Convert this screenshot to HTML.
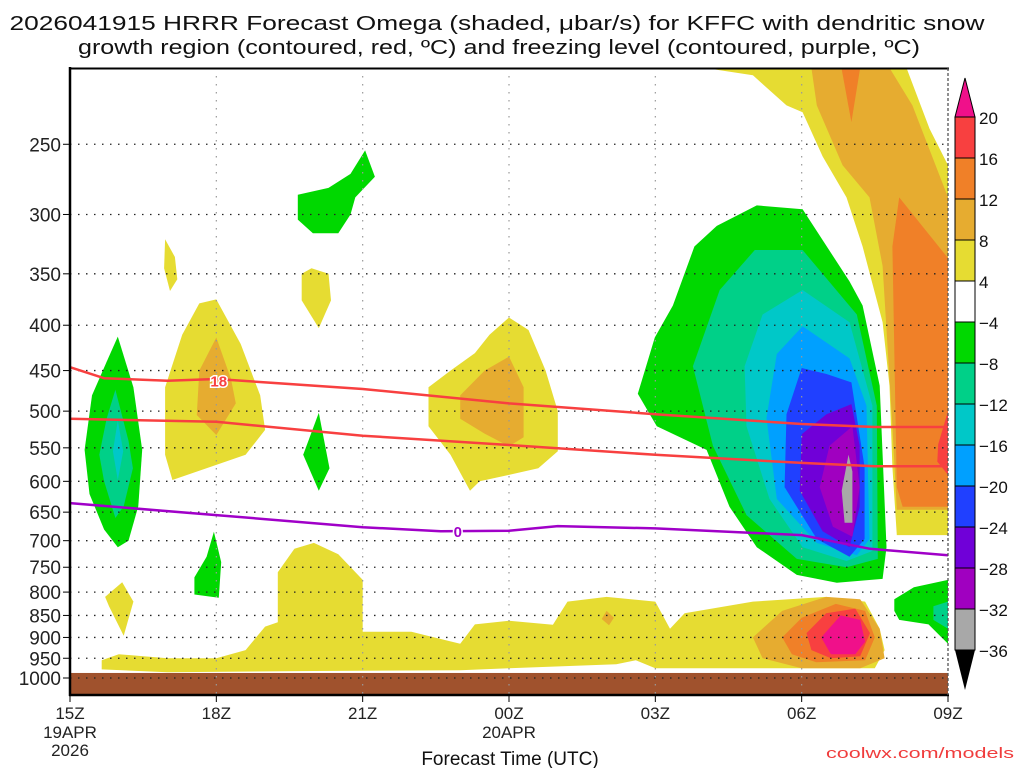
<!DOCTYPE html>
<html><head><meta charset="utf-8"><style>
html,body{margin:0;padding:0;background:#fff;}
svg{display:block;font-family:"Liberation Sans",sans-serif;}
</style></head><body>
<svg id="chart" width="1024" height="768" viewBox="0 0 1024 768">
<defs><clipPath id="plotclip"><rect x="70" y="68" width="878" height="627"/></clipPath></defs>
<g font-size="20" fill="#111">
<text x="497" y="30" text-anchor="middle" textLength="975" lengthAdjust="spacingAndGlyphs">2026041915 HRRR Forecast Omega (shaded, μbar/s) for KFFC with dendritic snow</text>
<text x="499" y="54" text-anchor="middle" textLength="842" lengthAdjust="spacingAndGlyphs">growth region (contoured, red, ºC) and freezing level (contoured, purple, ºC)</text>
</g>
<g id="fills" clip-path="url(#plotclip)"></g>
<g id="grid"></g>
<g id="lines" clip-path="url(#plotclip)"></g>
<g id="axes"></g>
<g id="cbar"></g>
<text x="510" y="765" text-anchor="middle" font-size="19" fill="#111">Forecast Time (UTC)</text>
<text x="1014" y="758" text-anchor="end" font-size="15" fill="#f03c3c" textLength="188" lengthAdjust="spacingAndGlyphs">coolwx.com/models</text>
</svg>
<script>
// ---- data (hours after 15Z, pressure hPa) ----
const pressureTicks = [250,300,350,400,450,500,550,600,650,700,750,800,850,900,950,1000];
const timeTickHours = [0,3,6,9,12,15,18];
const timeTickLabels = ["15Z","18Z","21Z","00Z","03Z","06Z","09Z"];
const cbarLabels = ["20","16","12","8","4","−4","−8","−12","−16","−20","−24","−28","−32","−36"];
const cbarColors = ["#f84040","#f08028","#e6ac30","#e6dc32","#ffffff","#00d800","#00d088","#00c8c8","#00a0ff","#2040ff","#7000d8","#a000c0","#a8a8a8"];

const greenLeft = [[0.98,412],[1.3,470],[1.48,553],[1.4,640],[1.2,700],[0.98,712],[0.7,680],[0.4,620],[0.3,553],[0.45,480],[0.75,440]];
const tealLeft = [[0.93,473],[1.2,540],[1.29,580],[1.1,640],[0.93,660],[0.7,600],[0.6,560],[0.75,510]];
const cyanLeft = [[0.98,512],[1.09,555],[0.98,598],[0.88,555]];
const yellowSmallA = [[1.95,320],[2.15,335],[2.2,355],[2.05,366],[1.93,345]];
const yellowA = [[3.0,374],[3.5,420],[3.9,480],[4.0,525],[3.6,560],[3.0,575],[2.1,598],[1.95,560],[1.95,470],[2.3,410],[2.65,378]];
const orangeA = [[3.0,413],[3.3,460],[3.4,490],[3.0,532],[2.6,505],[2.65,450]];
const greenSmallA = [[2.95,684],[3.1,740],[3.05,812],[2.55,805],[2.55,770],[2.8,730]];
const yellowSmallB = [[1.07,780],[1.3,820],[1.1,896],[0.8,830],[0.72,810]];
const greenTopMid = [[6.05,254],[6.25,272],[5.85,287],[5.75,300],[5.5,315],[4.98,315],[4.67,304],[4.67,285],[5.3,280],[5.75,270]];
const yellowSmallC = [[4.95,345],[5.3,350],[5.35,375],[5.1,403],[4.75,375],[4.75,350]];
const greenSmallB = [[5.1,502],[5.32,580],[5.1,615],[4.78,560]];
const yellowMid = [[9.0,392],[9.4,405],[9.75,450],[10.0,500],[10.0,555],[9.6,580],[9.0,590],[8.4,600],[8.2,615],[7.8,560],[7.35,520],[7.35,470],[7.8,450],[8.3,430],[8.6,410]];
const orangeMid = [[9.0,434],[9.3,470],[9.3,535],[9.0,548],[8.5,530],[8.0,510],[8.0,480],[8.5,450]];
const yellowBand = [[0.65,955],[1.0,940],[2.0,950],[3.0,950],[3.6,930],[4.0,875],[4.26,865],[4.26,760],[4.6,715],[5.0,704],[5.5,725],[6.0,775],[6.0,887],[7.0,887],[8.0,915],[8.3,870],[9.0,862],[9.9,871],[10.2,820],[11.0,810],[12.0,820],[12.3,880],[12.6,845],[14.0,820],[15.5,810],[16.3,820],[16.6,880],[16.7,930],[16.5,975],[12.0,975],[11.6,955],[11.2,965],[9.0,975],[8.0,980],[5.0,982],[2.0,985],[0.65,978]];
const orangeSpot = [[11.0,840],[11.15,855],[11.05,872],[10.9,858]];
const lightOrangeLow = [[14.0,900],[14.6,840],[15.5,810],[16.2,815],[16.6,880],[16.7,950],[16.2,975],[15.0,975],[14.2,950]];
const orangeLow = [[14.6,900],[15.0,855],[15.7,825],[16.3,840],[16.5,900],[16.3,955],[15.3,960],[14.8,940]];
const redLow = [[15.1,890],[15.5,845],[16.1,835],[16.4,890],[16.2,945],[15.6,950],[15.2,930]];
const magentaLow = [[15.4,900],[15.8,850],[16.2,860],[16.3,910],[16.1,940],[15.6,940]];
const yellowRight = [[13.01,200],[13.01,205],[14.0,209],[14.69,226],[15.02,230],[15.43,258],[15.92,287],[16.25,326],[16.66,397],[16.8,468],[16.86,578],[16.95,690],[18,690],[18,264],[17.62,240],[17.15,205],[17.15,200]];
const lightOrangeRight = [[15.2,200],[15.2,205],[15.31,226],[15.84,264],[16.39,287],[16.66,343],[16.86,520],[16.95,646],[18,646],[18,287],[17.27,226],[16.8,205],[16.8,200]];
const orangeSpike = [[15.78,200],[16.23,200],[16.02,236]];
const orangeRight = [[17.0,287],[18,336],[18,641],[17.07,641],[16.95,609],[16.86,326]];
const redRight = [[18,500],[17.8,545],[17.78,570],[18,590]];
const greenBig = [[12.8,326],[12.36,380],[11.99,413],[11.64,478],[12.03,520],[13.05,553],[13.52,641],[14.08,712],[14.9,765],[15.72,781],[16.66,773],[16.74,712],[16.6,468],[16.25,380],[15.98,357],[15.02,296],[14.08,293],[13.26,309]];
const tealBig = [[14.04,329],[15.02,329],[16.13,389],[16.54,493],[16.56,734],[15.92,750],[14.9,734],[13.87,655],[13.18,547],[12.77,445],[13.32,365]];
const cyanBig = [[15.02,365],[15.98,397],[16.45,493],[16.45,719],[15.92,738],[15.02,712],[14.34,628],[13.87,520],[13.83,445],[14.2,389]];
const lightBlueBig = [[15.02,401],[15.98,436],[16.33,493],[16.39,697],[16.13,727],[15.31,704],[14.49,628],[14.28,509],[14.49,431]];
const blueBig = [[15.0,447],[15.51,454],[16.02,464],[16.29,578],[16.29,697],[15.98,730],[15.31,697],[14.65,609],[14.69,504]];
const purpleBig = [[16.02,491],[16.19,547],[16.19,641],[15.98,712],[15.43,683],[14.96,615],[15.0,531],[15.51,504]];
const violetBig = [[16.04,520],[16.19,609],[16.04,693],[15.64,675],[15.37,609],[15.57,547]];
const grayCore = [[15.96,560],[16.04,585],[16.04,668],[15.88,668],[15.82,615]];
const greenLowRight = [[16.9,815],[17.3,790],[18,775],[18,915],[17.6,870],[17.0,860],[16.9,840]];
const tealLowRight = [[17.7,830],[18,820],[18,880],[17.7,860]];

const dgzUpper = [[0,446],[0.7,459],[2,462],[3,460],[6,472],[9,490],[12,504],[15,517],[16.5,521],[18,521]];
const dgzLower = [[0,510],[3,514],[6,533],[9,546],[12,560],[15,572],[16.5,577],[18,577]];
const freezingLine = [[0,635],[3,655],[6,676],[7.6,683],[9,682],[10,674],[12,678],[15,690],[16.4,715],[18,727]];

// ---- axis functions ----
const X = h => 70 + h * (878 / 18);
const Y = p => 678 + 385 * Math.log(p / 1000);
const NS = "http://www.w3.org/2000/svg";
function mk(tag, attrs, parent){ const e = document.createElementNS(NS, tag); for (const k in attrs) e.setAttribute(k, attrs[k]); parent.appendChild(e); return e; }
const fills = document.getElementById('fills');
function poly(pts, color, name){
  const e = mk('polygon', {points: pts.map(q => X(q[0]).toFixed(1) + ',' + Y(q[1]).toFixed(1)).join(' '), fill: color}, fills);
  
  
}
const C = {mag:"#f0108a", red:"#f84040", or:"#f08028", lo:"#e6ac30", ye:"#e6dc32", gr:"#00d800", te:"#00d088", cy:"#00c8c8", lb:"#00a0ff", bl:"#2040ff", pu:"#7000d8", vi:"#a000c0", gy:"#a8a8a8"};
poly(yellowRight, C.ye, 'upper-right-yellow');
poly(lightOrangeRight, C.lo, 'upper-right-light-orange');
poly(orangeSpike, C.or, 'upper-orange-spike');
poly(orangeRight, C.or, 'right-orange-column');
poly(redRight, C.red, 'right-red-patch');
poly(greenLeft, C.gr, 'left-green-column');
poly(tealLeft, C.te, 'left-teal-core');
poly(cyanLeft, C.cy, 'left-cyan-core');
poly(yellowSmallA, C.ye, 'yellow-small-a');
poly(yellowA, C.ye, 'yellow-blob-18z');
poly(orangeA, C.lo, 'orange-blob-18z');
poly(greenSmallA, C.gr, 'green-small-a');
poly(yellowSmallB, C.ye, 'yellow-small-b');
poly(greenTopMid, C.gr, 'green-upper-21z');
poly(yellowSmallC, C.ye, 'yellow-small-c');
poly(greenSmallB, C.gr, 'green-small-b');
poly(yellowMid, C.ye, 'yellow-blob-00z');
poly(orangeMid, C.lo, 'orange-blob-00z');
poly(yellowBand, C.ye, 'low-level-yellow-band');
poly(orangeSpot, C.lo, 'orange-spot');
poly(lightOrangeLow, C.lo, 'low-light-orange');
poly(orangeLow, C.or, 'low-orange');
poly(redLow, C.red, 'low-red');
poly(magentaLow, C.mag, 'low-magenta-core');
poly(greenBig, C.gr, 'big-green');
poly(tealBig, C.te, 'big-teal');
poly(cyanBig, C.cy, 'big-cyan');
poly(lightBlueBig, C.lb, 'big-light-blue');
poly(blueBig, C.bl, 'big-blue');
poly(purpleBig, C.pu, 'big-purple');
poly(violetBig, C.vi, 'big-violet');
poly(grayCore, C.gy, 'big-gray-core');
poly(greenLowRight, C.gr, 'low-right-green');
poly(tealLowRight, C.te, 'low-right-teal');
// ground
const g1 = mk('rect', {x:70, y:Y(987), width:878, height:695 - Y(987), fill:'#a0522d'}, fills);



// grid
const grid = document.getElementById('grid');
pressureTicks.forEach(p => {
  const l = mk('line', {x1:70, x2:948, y1:Y(p), y2:Y(p), stroke:'#222', 'stroke-width':1.3, 'stroke-dasharray':'1.5 6.5'}, grid);
  
  
});
timeTickHours.slice(1, -1).forEach(h => {
  const l = mk('line', {x1:X(h), x2:X(h), y1:68, y2:695, stroke:'#999', 'stroke-width':1.2, 'stroke-dasharray':'1.5 6.5'}, grid);
  
  
});

// contour lines
const lines = document.getElementById('lines');
function path(pts, color, name){
  let d = 'M' + X(pts[0][0]) + ' ' + Y(pts[0][1]);
  for (let i = 1; i < pts.length; i++) d += ' L' + X(pts[i][0]).toFixed(1) + ' ' + Y(pts[i][1]).toFixed(1);
  const e = mk('path', {d: d, fill:'none', stroke: color, 'stroke-width':2.5, 'stroke-linejoin':'round'}, lines);
  
  
}
path(dgzUpper, '#f84040', 'dgz-upper-line');
path(dgzLower, '#f84040', 'dgz-lower-line');
path(freezingLine, '#a000c8', 'freezing-level-line');
const lb1 = mk('text', {x:X(3.05), y:Y(462)+6, 'font-size':15, 'font-weight':'bold', fill:'#f84040', 'text-anchor':'middle', stroke:'#fff', 'stroke-width':3, 'paint-order':'stroke'}, lines);
lb1.textContent = '18';


const lb2 = mk('text', {x:X(7.95), y:Y(683)+6, 'font-size':15, 'font-weight':'bold', fill:'#a000c8', 'text-anchor':'middle', stroke:'#fff', 'stroke-width':3, 'paint-order':'stroke'}, lines);
lb2.textContent = '0';



// axes
const axes = document.getElementById('axes');
mk('line', {x1:70, x2:70, y1:67, y2:696, stroke:'#000', 'stroke-width':2.5}, axes);
mk('line', {x1:69, x2:949, y1:68.5, y2:68.5, stroke:'#000', 'stroke-width':2}, axes);
mk('line', {x1:69, x2:949, y1:695, y2:695, stroke:'#000', 'stroke-width':2.5}, axes);
mk('line', {x1:948, x2:948, y1:68, y2:695, stroke:'#555', 'stroke-width':1.3, 'stroke-dasharray':'3 2'}, axes);
pressureTicks.forEach(p => {
  mk('line', {x1:63, x2:70, y1:Y(p), y2:Y(p), stroke:'#000', 'stroke-width':1}, axes);
  const t = mk('text', {x:61, y:Y(p)+7, 'font-size':19, fill:'#222', 'text-anchor':'end'}, axes);
  t.textContent = p;
  
  
});
timeTickHours.forEach((h, i) => {
  mk('line', {x1:X(h), x2:X(h), y1:695, y2:702, stroke:'#000', 'stroke-width':1}, axes);
  const t = mk('text', {x:X(h), y:719, 'font-size':17, fill:'#222', 'text-anchor':'middle'}, axes);
  t.textContent = timeTickLabels[i];
  
  
});
[['19APR', X(0), 738], ['2026', X(0), 756], ['20APR', X(9), 738]].forEach(a => {
  const t = mk('text', {x:a[1], y:a[2], 'font-size':17, fill:'#222', 'text-anchor':'middle'}, axes);
  t.textContent = a[0];
  
  
});

// colorbar
const cb = document.getElementById('cbar');
const top0 = 117, step = 533 / 13;
mk('polygon', {points:`955,${top0} 975,${top0} 965,78`, fill:'#f0108a', stroke:'#000', 'stroke-width':1}, cb);
cbarColors.forEach((c, i) => {
  const r = mk('rect', {x:955, y:top0 + i*step, width:20, height:step, fill:c, stroke:'#000', 'stroke-width':1}, cb);
  
  
});
mk('polygon', {points:`955,${top0+13*step} 975,${top0+13*step} 965,690`, fill:'#000'}, cb);
cbarLabels.forEach((s, i) => {
  const t = mk('text', {x:979, y:top0 + i*step + 7, 'font-size':17, fill:'#111'}, cb);
  t.textContent = s;
  
  
});
</script>
</body></html>
